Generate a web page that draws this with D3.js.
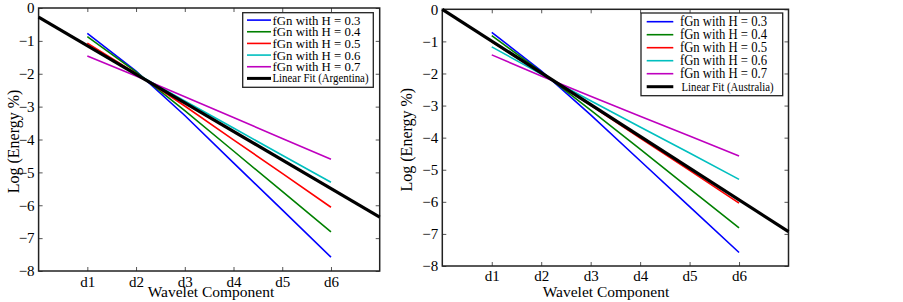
<!DOCTYPE html>
<html><head><meta charset="utf-8">
<script src="https://cdn.jsdelivr.net/npm/d3@7"></script>
<style>body{margin:0;background:#fff}svg{display:block}text{font-family:"Liberation Serif","Times New Roman",serif;fill:#000}</style>
</head><body>
<svg id="c" width="903" height="302"></svg>
<script>
const categories = ["d1","d2","d3","d4","d5","d6"];
const yTicks = [0,-1,-2,-3,-4,-5,-6,-7,-8];
const hLabels = ["fGn with H = 0.3","fGn with H = 0.4","fGn with H = 0.5","fGn with H = 0.6","fGn with H = 0.7"];
const colors = ["#0000ff","#008000","#ff0000","#00bfbf","#bf00bf"];

// Argentina panel (values at d1..d6)
const argH03 = [-0.77,-1.92,-3.27,-4.71,-6.14,-7.58];
const argH04 = [-0.87,-1.94,-3.12,-4.35,-5.58,-6.81];
const argH05 = [-1.07,-1.99,-2.98,-4.01,-5.03,-6.06];
const argH06 = [-1.15,-2.00,-2.83,-3.65,-4.48,-5.30];
const argH07 = [-1.46,-2.07,-2.70,-3.33,-3.97,-4.60];
const argFitX = [0,7];
const argFitY = [-0.28,-6.36];

// Australia panel (values at d1..d6)
const ausH03 = [-0.72,-1.92,-3.29,-4.72,-6.15,-7.58];
const ausH04 = [-0.82,-1.95,-3.14,-4.36,-5.59,-6.81];
const ausH05 = [-1.01,-1.99,-2.99,-4.01,-5.02,-6.04];
const ausH06 = [-1.17,-2.02,-2.85,-3.67,-4.48,-5.30];
const ausH07 = [-1.42,-2.08,-2.71,-3.33,-3.95,-4.57];
const ausFitX = [0,7];
const ausFitY = [0,-6.93];

const svg = d3.select("#c");

function panel(cfg){
  const {x0,x1,y0,y1,series,fitX,fitY,fitLabel,leg,ylabX,xlabX,xlabY,xpad} = cfg;
  const x = d3.scaleLinear().domain([0,7]).range([x0,x1]);
  const y = d3.scaleLinear().domain([0,-8]).range([y0,y1]);
  const g = svg.append("g");
  const xt = categories.map((c,i)=>i+1);
  g.append("g").attr("transform",`translate(0,${y1})`)
    .call(d3.axisBottom(x).tickValues(xt).tickFormat((d)=>categories[d-1]).tickSizeInner(-4).tickSizeOuter(0).tickPadding(xpad))
    .call(s=>{s.select(".domain").remove();s.selectAll("text").attr("font-size",15).style("font-family","Liberation Serif");s.selectAll("line").attr("stroke","#555");});
  g.append("g").attr("transform",`translate(0,${y0})`)
    .call(d3.axisTop(x).tickValues(xt).tickFormat("").tickSizeInner(-4).tickSizeOuter(0))
    .call(s=>{s.select(".domain").remove();s.selectAll("line").attr("stroke","#555");});
  g.append("g").attr("transform",`translate(${x0},0)`)
    .call(d3.axisLeft(y).tickValues(yTicks).tickFormat(d3.format("d")).tickSizeInner(-4).tickSizeOuter(0).tickPadding(4))
    .call(s=>{s.select(".domain").remove();s.selectAll("text").attr("font-size",15).style("font-family","Liberation Serif");s.selectAll("line").attr("stroke","#555");});
  g.append("g").attr("transform",`translate(${x1},0)`)
    .call(d3.axisRight(y).tickValues(yTicks).tickFormat("").tickSizeInner(-4).tickSizeOuter(0))
    .call(s=>{s.select(".domain").remove();s.selectAll("line").attr("stroke","#555");});
  g.append("rect").attr("x",x0).attr("y",y0).attr("width",x1-x0).attr("height",y1-y0)
    .attr("fill","none").attr("stroke","#222").attr("stroke-width",1.5);
  const line = d3.line().x((d,i)=>x(i+1)).y(d=>y(d));
  series.forEach((s,k)=>{
    g.append("path").attr("d",line(s)).attr("fill","none").attr("stroke",colors[k]).attr("stroke-width",1.6);
  });
  const fl = d3.line().x(d=>x(d[0])).y(d=>y(d[1]));
  g.append("path").attr("d",fl(fitX.map((v,i)=>[v,fitY[i]]))).attr("fill","none").attr("stroke","#000").attr("stroke-width",3.2);
  g.append("text").attr("x",xlabX).attr("y",xlabY).attr("text-anchor","middle").attr("font-size",15.5).text("Wavelet Component");
  g.append("text").attr("transform",`translate(${ylabX},${(y0+y1)/2+2}) rotate(-90)`).attr("text-anchor","middle").attr("dominant-baseline","middle").attr("font-size",16).text("Log (Energy %)");
  const L = g.append("g");
  L.append("rect").attr("x",leg.x).attr("y",leg.y).attr("width",leg.w).attr("height",leg.h).attr("fill","#fff").attr("stroke","#222").attr("stroke-width",1.3);
  const labels = hLabels.concat([fitLabel]);
  const cols = colors.concat(["#000"]);
  labels.forEach((t,i)=>{
    const yy = leg.y + leg.first + i*leg.step;
    L.append("line").attr("x1",leg.lx0).attr("x2",leg.lx1).attr("y1",yy).attr("y2",yy).attr("stroke",cols[i]).attr("stroke-width",i===5?3:1.6);
    const last = i===5;
    L.append("text").attr("x",last?leg.tx2:leg.tx).attr("y",yy).attr("dominant-baseline","central")
      .attr("font-size",last?leg.fs2:leg.fs)
      .attr("textLength",last?leg.w2:leg.w1).attr("lengthAdjust","spacingAndGlyphs").text(t);
  });
}

panel({x0:38.6,x1:379.7,y0:8,y1:271,xpad:5,xlabY:296.5,
  series:[argH03,argH04,argH05,argH06,argH07],fitX:argFitX,fitY:argFitY,fitLabel:"Linear Fit (Argentina)",
  ylabX:15,xlabX:211,
  leg:{x:242.7,y:12.7,w:130.6,h:74.6,first:7.4,step:11.66,lx0:247,lx1:271,tx:272.5,tx2:272.5,fs:13.5,fs2:12,w1:88,w2:96}});
panel({x0:442.3,x1:788.5,y0:9.3,y1:266,xpad:4,xlabY:297,
  series:[ausH03,ausH04,ausH05,ausH06,ausH07],fitX:ausFitX,fitY:ausFitY,fitLabel:"Linear Fit (Australia)",
  ylabX:408,xlabX:606,
  leg:{x:641,y:13,w:141.7,h:82.7,first:8.7,step:13,lx0:646.7,lx1:673.3,tx:680,tx2:681.5,fs:14,fs2:13,w1:87,w2:92}});
</script>
</body></html>
